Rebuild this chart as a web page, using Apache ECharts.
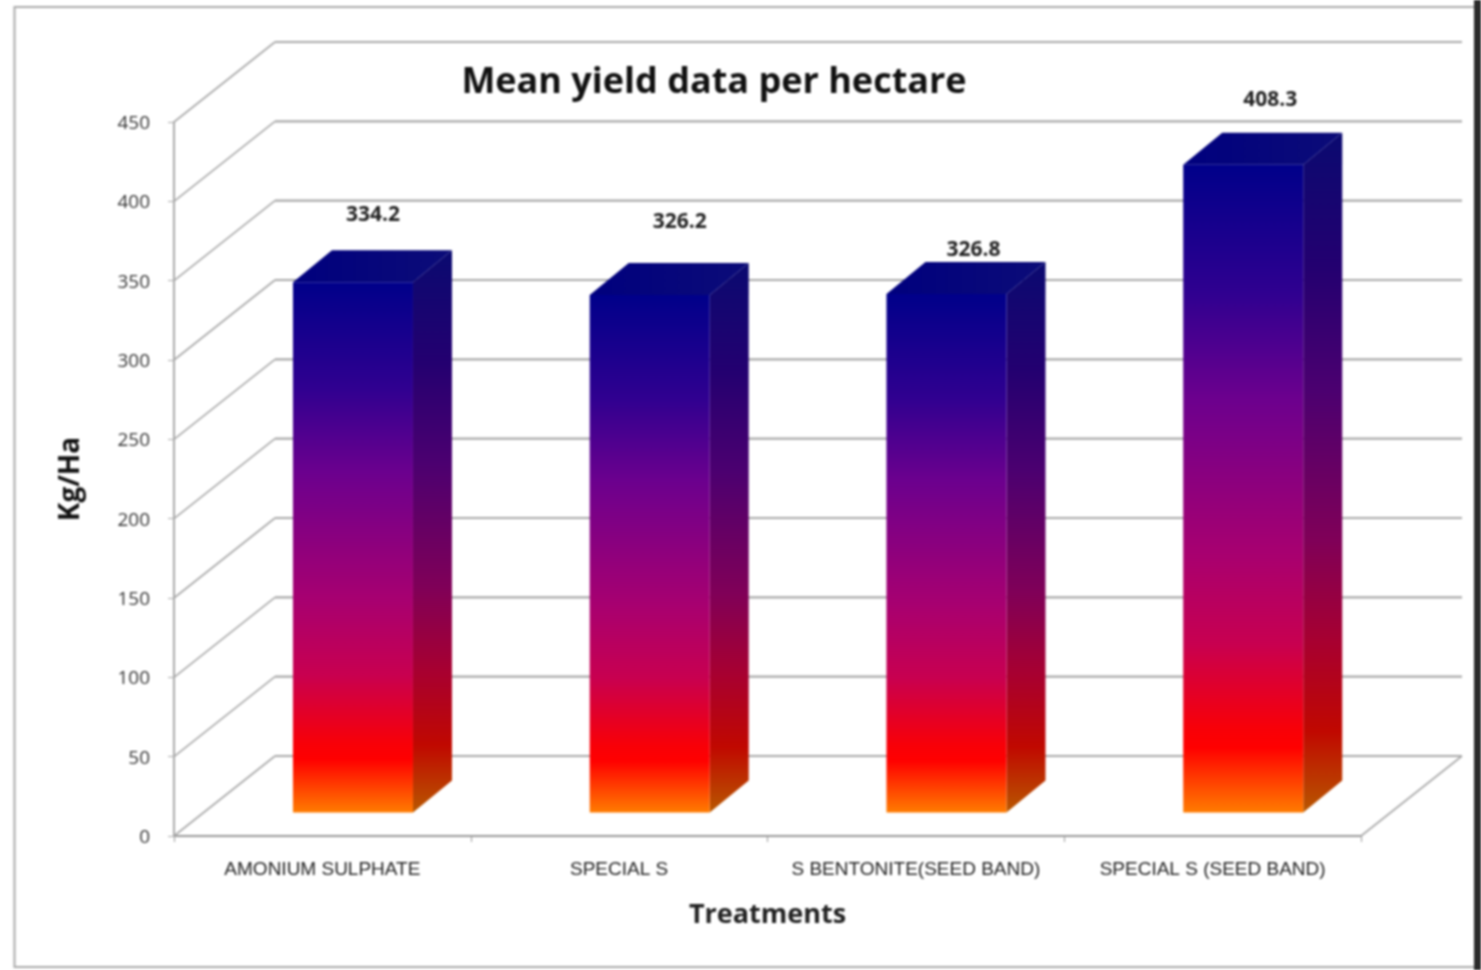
<!DOCTYPE html>
<html><head><meta charset="utf-8">
<style>html,body{margin:0;padding:0;background:#fff;overflow:hidden}#c{width:1481px;height:970px;filter:blur(0.9px)}</style>
<script src="https://cdn.jsdelivr.net/npm/echarts@6/dist/echarts.min.js"></script>
</head><body><div id="c"></div>
<script>
const categories = ['AMONIUM SULPHATE','SPECIAL S','S BENTONITE(SEED BAND)','SPECIAL S (SEED BAND)'];
const yieldValues = [334.2,326.2,326.8,408.3];
const valueTicks = [0,50,100,150,200,250,300,350,400,450];
const labelOffsetX = [20,30,27,27];
const labelOffsetY = [-67,-73,-44,-65];

const WALL_DX = 101, WALL_DY = -80;
const BAR_SHIFT = 30.6, BAR_W = 120, BAR_BASE = -23.5, DEPTH_X = 39, DEPTH_Y = -32;
const GRID = '#a9a9a9';

function grad(stops, x2, y2){ return new echarts.graphic.LinearGradient(0,0,x2||0,y2===undefined?1:y2,stops.map(s=>({offset:s[0],color:s[1]}))); }
const frontStops=[[0,'#00008a'],[0.2,'#300090'],[0.36,'#6c008e'],[0.6,'#a80070'],[0.74,'#c80050'],[0.87,'#f80008'],[0.9,'#ff0000'],[1,'#ff7c00']];
const sideStops=[[0,'#0a0a70'],[0.2,'#240070'],[0.38,'#4c0070'],[0.6,'#800058'],[0.75,'#a80030'],[0.88,'#c00800'],[1,'#b85800']];

function renderWalls(params, api){
  const v = api.value(1);
  const band = api.size([1,0])[0];
  const p0 = api.coord([0,v]), p3 = api.coord([categories.length-1,v]);
  const xL = p0[0]-band/2, xR = p3[0]+band/2, y = p0[1];
  const children=[
    {type:'line',shape:{x1:xL,y1:y,x2:xL+WALL_DX,y2:y+WALL_DY},style:{stroke:GRID,lineWidth:1.6}},
    {type:'line',shape:{x1:xL+WALL_DX,y1:y+WALL_DY,x2:xR+WALL_DX,y2:y+WALL_DY},style:{stroke:GRID,lineWidth:2.2}}
  ];
  if(v===0) children.push({type:'line',shape:{x1:xR,y1:y,x2:xR+WALL_DX,y2:y+WALL_DY},style:{stroke:GRID,lineWidth:1.6}});
  return {type:'group',children};
}
function renderBar(params, api){
  const i = api.value(0), v = api.value(1);
  const c = api.coord([i,v]), c0 = api.coord([i,0]);
  const l = c[0]+BAR_SHIFT-BAR_W/2, r = l+BAR_W, t = c[1]+BAR_BASE, b = c0[1]+BAR_BASE;
  return {type:'group',children:[
    {type:'polygon',shape:{points:[[r,t],[r+DEPTH_X,t+DEPTH_Y],[r+DEPTH_X,b+DEPTH_Y],[r,b]]},style:{fill:grad(sideStops)}},
    {type:'polygon',shape:{points:[[l,t],[l+DEPTH_X,t+DEPTH_Y],[r+DEPTH_X,t+DEPTH_Y],[r,t]]},style:{fill:grad([[0,'#00007e'],[1,'#0c0c78']],1,0)}},
    {type:'rect',shape:{x:l,y:t,width:BAR_W,height:b-t},style:{fill:grad(frontStops)}},
    {type:'text',style:{x:c[0]+BAR_SHIFT+labelOffsetX[i],y:t+labelOffsetY[i],text:yieldValues[i].toFixed(1),align:'center',verticalAlign:'middle',font:'bold 21px "Open Sans"',fill:'#222'}}
  ]};
}
const chart = echarts.init(document.getElementById('c'));
chart.setOption({
  animation:false,
  backgroundColor:'#fff',
  title:{text:'Mean yield data per hectare',left:709,top:60,textAlign:'center',textStyle:{fontFamily:'Open Sans',fontWeight:'bold',fontSize:36,color:'#111'}},
  grid:{left:174,top:122,width:1187,height:714},
  xAxis:{type:'category',data:categories,
    axisLine:{lineStyle:{color:'#999',width:2}},axisTick:{show:true,interval:0,length:6,lineStyle:{color:'#999'}},
    axisLabel:{interval:0,margin:24,fontFamily:'Liberation Sans',fontSize:19,color:'#222'},
    name:'Treatments',nameLocation:'middle',nameGap:66,nameTextStyle:{fontFamily:'Open Sans',fontWeight:'bold',fontSize:27,color:'#222'}},
  yAxis:{type:'value',min:0,max:450,interval:50,
    axisLine:{show:true,lineStyle:{color:'#aaa',width:2}},axisTick:{show:true,length:6,lineStyle:{color:'#aaa'}},splitLine:{show:false},
    axisLabel:{margin:24,verticalAlign:'top',lineHeight:3,fontFamily:'Open Sans',fontSize:19,color:'#333'},
    name:'Kg/Ha',nameLocation:'middle',nameGap:89,nameTextStyle:{fontFamily:'Open Sans',fontWeight:'bold',fontSize:28,color:'#111'}},
  graphic:[
    {type:'rect',shape:{x:14.5,y:7,width:1470,height:960},style:{fill:null,stroke:'#aaa',lineWidth:2},z:-1},
    {type:'rect',shape:{x:1474,y:0,width:7,height:970},style:{fill:'#2a2a2a'},z:10}
  ],
  series:[
    {type:'custom',clip:false,silent:true,z:1,renderItem:renderWalls,data:valueTicks.map(v=>[0,v])},
    {type:'custom',clip:false,silent:true,z:2,renderItem:renderBar,data:categories.map((c,i)=>[i,yieldValues[i]])}
  ]
});
</script></body></html>
